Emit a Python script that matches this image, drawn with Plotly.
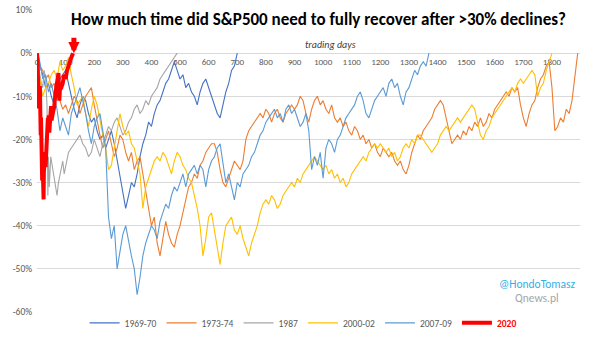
import plotly.graph_objects as go

# ---------------- data (drawdown from peak, %) ----------------
names = ["1969-70", "1973-74", "1987", "2000-02", "2007-09", "2020"]
colors = ["#4472C4", "#ED7D31", "#A5A5A5", "#FFC000", "#5B9BD5", "#FF0000"]

step = 10  # sampling step (trading days) for the long series

v_1969 = [0, -3, -5, -8, -7, -10, -12, -9, -6, -5,
          -4, -7, -10, -13, -15, -12, -10, -11, -14, -16,
          -15, -18, -20, -19, -22, -20, -18, -21, -25, -28,
          -32, -36, -33, -30, -31, -28, -24, -21, -19, -16,
          -17, -14, -12, -11, -9, -7, -6, -4, -2, -4,
          -6, -5, -8, -7, -9, -10, -12, -9, -7, -6,
          -8, -10, -12, -14, -15, -12, -9, -7, -4, -3,
          0]

v_1973 = [0, -3, -4, -6, -5, -8, -7, -10, -11, -13,
          -12, -14, -12, -10, -11, -14, -12, -10, -9, -8,
          -12, -16, -19, -22, -20, -18, -21, -24, -22, -19,
          -20, -23, -25, -23, -27, -25, -24, -28, -32, -35,
          -40, -38, -44, -47, -43, -39, -42, -44, -45, -42,
          -40, -37, -34, -31, -30, -28, -29, -26, -25, -23,
          -22, -21, -21, -23, -27, -30, -31, -29, -27, -25,
          -26, -27, -25, -20, -18, -17, -16, -15, -14, -15,
          -13, -14, -16, -14, -13, -15, -16, -14, -13, -12,
          -13, -12, -10, -11, -14, -16, -13, -11, -10, -12,
          -11, -13, -14, -12, -15, -16, -15, -17, -16, -18,
          -19, -17, -18, -20, -19, -21, -20, -22, -21, -23,
          -24, -22, -23, -24, -23, -25, -26, -25, -27, -28,
          -26, -23, -21, -19, -20, -18, -17, -16, -15, -13,
          -12, -11, -12, -15, -18, -21, -20, -19, -20, -18,
          -19, -17, -18, -16, -17, -15, -17, -16, -14, -15,
          -13, -12, -11, -10, -9, -10, -8, -9, -8, -12,
          -15, -17, -14, -12, -11, -8, -6, -5, -3, -2,
          -8, -18, -17, -15, -16, -13, -14, -11, -6, 0]

d_1987 = [0, 5, 10, 15, 20, 25, 30, 35, 38, 40, 43, 48, 55, 60, 65, 70, 75, 80, 85, 90,
          95, 100, 110, 120, 130, 140, 150, 160, 170, 180, 190, 200, 210, 220, 230, 240,
          250, 260, 270, 280, 290, 300, 310, 320, 330, 340, 350, 360, 370, 380, 390, 400,
          410, 420, 430, 440, 450, 460, 470, 480, 490]
v_1987 = [0, -3, -5, -7, -8, -4, -6, -12, -33, -24, -31, -24, -27, -29, -31, -33, -30, -28, -26, -25,
          -28, -26, -23, -22, -21, -20, -19, -21, -22, -24, -23, -20, -22, -24, -21, -19,
          -17, -18, -16, -15, -17, -19, -18, -16, -15, -13, -12, -14, -13, -11, -12, -10,
          -9, -8, -6, -5, -4, -3, -2, -1, 0]

v_2000 = [0, -6, -10, -8, -7, -5, -4, -6, -2, -4,
          -3, -1, -5, -8, -12, -11, -10, -14, -17, -13,
          -10, -12, -16, -19, -22, -27, -26, -22, -18, -14,
          -17, -19, -18, -21, -22, -25, -28, -36, -31, -29,
          -27, -25, -24, -25, -23, -24, -26, -28, -25, -23,
          -24, -26, -27, -29, -30, -33, -36, -40, -47, -43,
          -38, -37, -41, -44, -49, -44, -40, -39, -38, -41,
          -42, -40, -43, -45, -47, -44, -42, -40, -37, -35,
          -34, -35, -33, -34, -36, -35, -33, -32, -31, -30,
          -31, -29, -30, -28, -27, -26, -25, -24, -25, -26,
          -27, -26, -28, -27, -29, -28, -30, -29, -31, -30,
          -28, -27, -26, -25, -24, -25, -23, -22, -21, -22,
          -21, -22, -23, -22, -24, -23, -25, -24, -22, -21,
          -22, -20, -21, -19, -19, -20, -21, -22, -23, -22,
          -21, -19, -18, -17, -18, -17, -16, -15, -16, -15,
          -14, -13, -12, -13, -16, -19, -20, -18, -17, -15,
          -14, -13, -12, -11, -10, -9, -8, -9, -7, -6,
          -7, -6, -5, -4, -5, -10, -8, -7, -4, -2,
          0]

v_2007 = [0, -2, -6, -5, -9, -7, -10, -13, -18, -15,
          -17, -19, -14, -12, -10, -8, -11, -14, -18, -21,
          -17, -15, -14, -18, -22, -38, -43, -40, -50, -46,
          -42, -40, -44, -47, -50, -56, -52, -47, -44, -42,
          -40, -41, -43, -39, -37, -35, -36, -33, -31, -32,
          -30, -28, -31, -28, -27, -26, -28, -26, -27, -31,
          -27, -25, -24, -22, -21, -26, -30, -28, -31, -34,
          -30, -31, -28, -27, -26, -24, -23, -21, -19, -18,
          -16, -15, -14, -13, -15, -14, -16, -13, -12, -14,
          -13, -15, -17, -16, -14, -18, -27, -24, -26, -23,
          -29, -22, -20, -21, -23, -20, -19, -17, -15, -14,
          -13, -12, -10, -9, -11, -14, -15, -13, -11, -10,
          -9, -8, -10, -7, -6, -8, -7, -10, -12, -9,
          -8, -6, -4, -5, -3, -2, -3, 0]

d_2020 = list(range(0, 52)) + [55, 60, 65, 70, 75, 78, 80, 85, 90, 95, 100, 105, 110, 115, 120, 126]
v_2020 = [0, -0.4, -1.4, -4.8, -7.8, -8.1, -12, -12.8, -8.9, -11.5,
          -7.6, -10.8, -12.4, -19, -14.9, -19.2, -26.7, -20, -29.5, -25.9,
          -29.2, -28.9, -32, -33.9, -27.7, -26.6, -22.9, -25.6, -23.3, -23.9,
          -26.4, -25, -26.1, -20.5, -20.7, -17.9, -16.7, -17.5, -15, -17,
          -16.5, -14.4, -15.9, -18.4, -16.4, -16.4, -15.2, -14.1, -14.6, -12.3,
          -13.1, -15.6,
          -14, -12.5, -9, -6, -4.6, -11, -8.5, -8, -7, -5, -6, -4, -2.5, -2, -1, 0]

y_ticks = [0.1, 0, -0.1, -0.2, -0.3, -0.4, -0.5, -0.6]
y_labels = ["10%", "0%", "-10%", "-20%", "-30%", "-40%", "-50%", "-60%"]
x_ticks = [0, 100, 200, 300, 400, 500, 600, 700, 800, 900, 1000,
           1100, 1200, 1300, 1400, 1500, 1600, 1700, 1800]
x_labels = [str(t) for t in x_ticks]

# ---------------- figure ----------------
def even_days(vals):
    return [i * step for i in range(len(vals))]

series = [
    (even_days(v_1969), v_1969),
    (even_days(v_1973), v_1973),
    (d_1987, v_1987),
    (even_days(v_2000), v_2000),
    (even_days(v_2007), v_2007),
    (d_2020, v_2020),
]

fig = go.Figure()
for (days, vals), name, col in zip(series, names, colors):
    is_2020 = name == "2020"
    label = "<span style='color:#FF0000'><b>2020</b></span>" if is_2020 else name
    fig.add_trace(go.Scatter(
        x=days, y=[v / 100 for v in vals], mode="lines", name=label,
        line=dict(color=col, width=4 if is_2020 else 1.1),
        hoverinfo="skip",
    ))

FONT = "Carlito, Liberation Sans Narrow, Liberation Sans, Arial"

fig.update_layout(
    width=605, height=341,
    margin=dict(l=37, r=25, t=10, b=29, autoexpand=False),
    paper_bgcolor="white", plot_bgcolor="white",
    font=dict(family=FONT, size=10, color="#595959"),
    showlegend=True,
    legend=dict(orientation="h", x=0.49, xanchor="center", y=-0.036, yanchor="middle",
                font=dict(size=9.5, color="#595959"), itemwidth=30,
                bgcolor="rgba(0,0,0,0)"),
    xaxis=dict(range=[0, 1898], tickvals=x_ticks, ticktext=x_labels,
               showgrid=False, zeroline=False, ticks="",
               anchor="free", position=6 / 7, showline=True, linecolor="#D9D9D9",
               linewidth=1, tickfont=dict(size=9, color="#595959"),
               layer="below traces"),
    yaxis=dict(range=[-0.6, 0.1], tickvals=y_ticks, ticktext=y_labels,
               showgrid=True, gridcolor="#D9D9D9", gridwidth=1, zeroline=False,
               ticks="", tickfont=dict(size=9.5, color="#595959"),
               ticklabelstandoff=4),
)

fig.add_annotation(text="<b>How much time did S&amp;P500 need to fully recover after &gt;30% declines?</b>",
                   xref="paper", yref="paper", x=0.5175, y=0.967, xanchor="center",
                   yanchor="middle", showarrow=False,
                   font=dict(family=FONT, size=17, color="#000000"))
fig.add_annotation(text="<i>trading days</i>", xref="paper", yref="paper",
                   x=0.54, y=0.885, xanchor="center", yanchor="middle", showarrow=False,
                   font=dict(family=FONT, size=10, color="#404040"))
fig.add_annotation(text="@HondoTomasz", xref="paper", yref="paper",
                   x=0.921, y=0.093, xanchor="center", yanchor="middle", showarrow=False,
                   font=dict(family=FONT, size=11.5, color="#33B0E8"))
fig.add_annotation(text="Qnews.pl", xref="paper", yref="paper",
                   x=0.921, y=0.046, xanchor="center", yanchor="middle", showarrow=False,
                   font=dict(family=FONT, size=11.5, color="#A6A6A6"))
fig.add_annotation(x=129, y=0.0, xref="x", yref="y", ax=0, ay=-17, text="",
                   showarrow=True, arrowhead=2, arrowsize=0.45, arrowwidth=5,
                   arrowcolor="#FF0000", standoff=0)

fig.write_html("out.html")
